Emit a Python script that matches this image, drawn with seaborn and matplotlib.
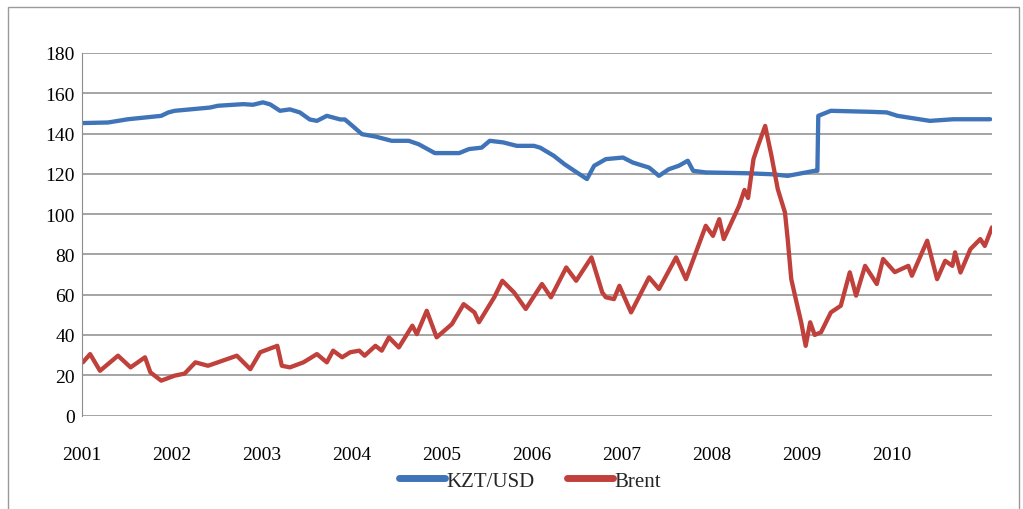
import pandas as pd
import matplotlib
matplotlib.use("Agg")
import matplotlib.pyplot as plt
import seaborn as sns
from matplotlib.patches import Rectangle
from matplotlib.lines import Line2D

sns.set_style("white")
plt.rcParams["font.family"] = ["Liberation Serif", "DejaVu Serif"]

# KZT/USD (x = fractional year position on the axis)
kzt_x = [2001.00, 2001.29, 2001.51, 2001.88, 2001.96, 2002.03, 2002.42, 2002.51,
         2002.79, 2002.90, 2003.01, 2003.09, 2003.20, 2003.31, 2003.42, 2003.53,
         2003.61, 2003.72, 2003.87, 2003.92, 2004.00, 2004.11, 2004.26, 2004.44,
         2004.63, 2004.74, 2004.92, 2005.19, 2005.30, 2005.44, 2005.53, 2005.68,
         2005.83, 2006.02, 2006.09, 2006.24, 2006.36, 2006.47, 2006.61, 2006.69,
         2006.82, 2007.01, 2007.12, 2007.30, 2007.41, 2007.52, 2007.63, 2007.73,
         2007.79, 2007.93, 2008.38, 2008.66, 2008.84, 2009.14, 2009.17, 2009.18,
         2009.32, 2009.76, 2009.94, 2010.06, 2010.42, 2010.68, 2011.09]
kzt_y = [145.2, 145.5, 147.1, 148.8, 150.5, 151.3, 152.9, 153.8,
         154.6, 154.3, 155.5, 154.5, 151.3, 152.0, 150.5, 147.0,
         146.3, 148.8, 147.0, 147.0, 144.0, 139.7, 138.5, 136.4,
         136.4, 134.7, 130.3, 130.3, 132.3, 133.0, 136.4, 135.6,
         133.9, 133.9, 133.0, 129.0, 124.8, 121.5, 117.4, 124.0,
         127.3, 128.1, 125.6, 123.1, 119.0, 122.3, 124.0, 126.5,
         121.5, 120.7, 120.3, 119.8, 119.0, 121.5, 121.5, 148.8,
         151.3, 150.8, 150.5, 148.8, 146.3, 147.1, 147.1]

# Brent
brent_x = [2001.01, 2001.09, 2001.20, 2001.40, 2001.54, 2001.70, 2001.76, 2001.88,
           2002.03, 2002.14, 2002.26, 2002.40, 2002.51, 2002.72, 2002.87, 2002.98,
           2003.17, 2003.22, 2003.31, 2003.46, 2003.61, 2003.72, 2003.79, 2003.89,
           2003.98, 2004.08, 2004.14, 2004.26, 2004.33, 2004.41, 2004.52, 2004.67,
           2004.72, 2004.83, 2004.94, 2005.11, 2005.24, 2005.36, 2005.41, 2005.58,
           2005.67, 2005.80, 2005.93, 2006.11, 2006.21, 2006.38, 2006.49, 2006.66,
           2006.78, 2006.82, 2006.91, 2006.97, 2007.10, 2007.30, 2007.41, 2007.60,
           2007.71, 2007.93, 2008.01, 2008.08, 2008.13, 2008.30, 2008.36, 2008.40,
           2008.46, 2008.51, 2008.59, 2008.66, 2008.73, 2008.81, 2008.84, 2008.88,
           2008.93, 2008.99, 2009.04, 2009.09, 2009.14, 2009.21, 2009.32, 2009.43,
           2009.53, 2009.60, 2009.70, 2009.83, 2009.90, 2010.03, 2010.18, 2010.22,
           2010.39, 2010.50, 2010.59, 2010.67, 2010.70, 2010.76, 2010.87, 2010.98,
           2011.03, 2011.11]
brent_y = [26.4, 30.5, 22.2, 29.7, 23.9, 28.9, 21.4, 17.3,
           19.8, 20.8, 26.4, 24.7, 26.4, 29.7, 23.0, 31.4,
           34.6, 24.7, 23.9, 26.4, 30.5, 26.4, 32.2, 28.9,
           31.4, 32.2, 29.7, 34.6, 32.2, 38.8, 33.8, 44.6,
           40.4, 52.0, 38.8, 45.4, 55.3, 51.2, 46.3, 58.7,
           66.9, 61.1, 52.9, 65.3, 58.7, 73.5, 66.9, 78.5,
           61.1, 58.7, 57.8, 64.4, 51.2, 68.6, 62.8, 78.5,
           67.7, 94.2, 89.2, 97.5, 87.6, 104.1, 112.0, 108.0,
           127.3, 133.9, 143.8, 128.9, 112.4, 100.8, 87.6, 67.7,
           57.8, 46.3, 34.6, 46.3, 40.0, 41.3, 51.2, 54.5,
           71.1, 59.5, 74.3, 65.3, 77.7, 71.2, 74.3, 69.4,
           86.8, 67.7, 76.8, 74.3, 81.0, 71.0, 82.6, 87.6,
           84.2, 93.4]

years = list(range(2001, 2011))
blue = "#3f74b8"
red = "#c0403c"

df = pd.concat([
    pd.DataFrame({"x": kzt_x, "value": kzt_y, "series": "KZT/USD"}),
    pd.DataFrame({"x": brent_x, "value": brent_y, "series": "Brent"}),
])

fig = plt.figure(figsize=(10.23, 5.10), dpi=100)
ax = fig.add_axes([82 / 1023, 1 - 416.5 / 510, 910 / 1023, (416.5 - 54) / 510])

sns.lineplot(data=df, x="x", y="value", hue="series", estimator=None, sort=False,
             palette={"KZT/USD": blue, "Brent": red},
             linewidth=3.1, ax=ax, legend=False)

ax.set_xlim(2001, 2011.11)
ax.set_ylim(0, 180)
ax.set_yticks(range(0, 181, 20))
ax.set_xticks(years)
ax.set_xticklabels([str(y) for y in years])
ax.set_xlabel("")
ax.set_ylabel("")
ax.yaxis.grid(True, color="#8c8c8c", linewidth=1.1)
ax.set_axisbelow(True)
for s in ["top", "right", "bottom"]:
    ax.spines[s].set_visible(False)
ax.spines["left"].set_color("#8c8c8c")
ax.tick_params(axis="both", length=0, labelsize=14, colors="#000000")
ax.tick_params(axis="y", pad=5)
ax.tick_params(axis="x", pad=22)

handles = [Line2D([], [], color=blue, linewidth=5),
           Line2D([], [], color=red, linewidth=5)]
fig.legend(handles, ["KZT/USD", "Brent"], loc="center",
           bbox_to_anchor=(530 / 1023, 1 - 482 / 510),
           ncol=2, frameon=False, fontsize=15, handlelength=2.2, handletextpad=0.05,
           columnspacing=1.6)

fig.patches.append(Rectangle((8 / 1023, -0.01), 1011 / 1023, 1.01 - 8 / 510,
                             transform=fig.transFigure, fill=False,
                             edgecolor="#9a9a9a", linewidth=1))

fig.savefig("out.png", dpi=100)
